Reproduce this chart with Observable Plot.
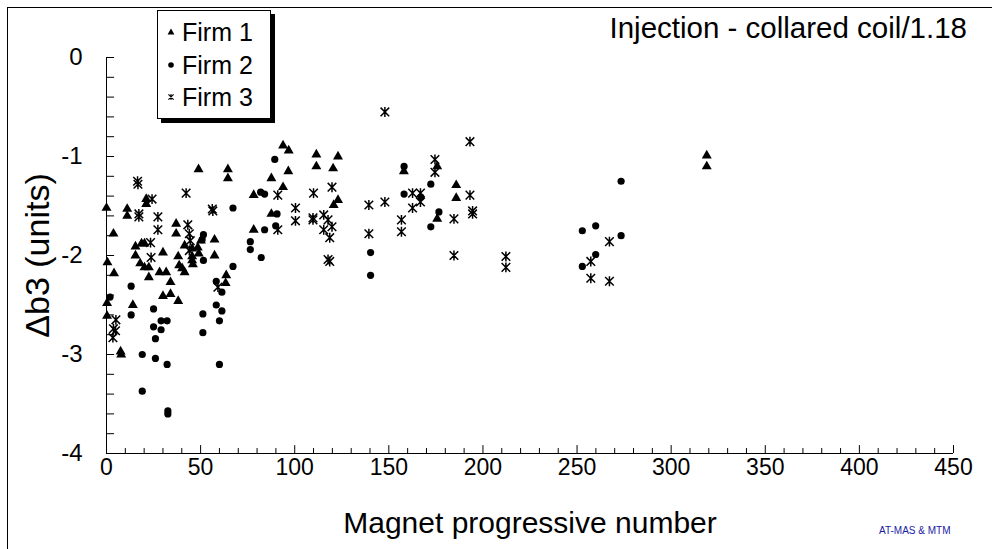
<!DOCTYPE html>
<html>
<head>
<meta charset="utf-8">
<script src="https://cdn.jsdelivr.net/npm/d3@7"></script>
<script src="https://cdn.jsdelivr.net/npm/@observablehq/plot@0.6"></script>
<style>
  html, body { margin: 0; padding: 0; background: #fff; }
  #wrap { position: relative; width: 992px; height: 549px; overflow: hidden; font-family: "Liberation Sans", Arial, sans-serif; }
  #chart { position: absolute; left: 0; top: 0; }
  #border { position: absolute; left: 7px; top: 7px; width: 990px; height: 560px; border-top: 1px solid #000; border-left: 1px solid #000; }
  #title { position: absolute; right: 25px; top: 13px; font-size: 29.5px; line-height: 30px; color: #000; white-space: nowrap; }
  #legend { position: absolute; left: 157px; top: 10px; width: 112px; height: 107px; border: 1px solid #000; background: #fff; box-shadow: 4px 4px 0 #000; font-size: 25px; }
  #legend .row { position: absolute; left: 8px; height: 28px; line-height: 28px; white-space: nowrap; }
  #legend svg { vertical-align: middle; margin-right: 6px; position: relative; top: -2px; }
  #caption { position: absolute; left: 879px; top: 525px; font-size: 10px; color: #1a1aa6; white-space: nowrap; }
</style>
</head>
<body>
<div id="wrap">
  <div id="chart"></div>
  <div id="border"></div>
  <div id="title"></div>
  <div id="legend"></div>
  <div id="caption"></div>
</div>
<script>
// ---- Data ----
const seriesNames = ["Firm 1", "Firm 2", "Firm 3"];

const firm1X = [0, 11, 11, 3.7, 0.5, 4, 0.3, 0.3, 7.5, 7.8,
  15.4, 15.4, 18.6, 20.2, 21.1, 21.1, 17.9, 20.2, 22.5, 22.5, 14, 30, 28.2, 31.7, 34, 30, 34, 38.1,
  37, 37, 38.1, 38.6, 40.2, 41.5, 41.5, 45.5, 48.5, 45.5, 45.5, 45.9, 49, 50.2, 57.4, 57.4, 48.9,
  63.6, 63.3, 64.5, 64.5,
  78.2, 87.6, 87.6, 78.2, 93.8, 96.8, 96.6, 93.8, 111.5, 111.5, 123, 120.4, 120.7, 123,
  158, 175.7, 175.7, 185.8, 185.8, 318.9, 318.9];
const firm1Y = [-1.52, -1.53, -1.60, -1.78, -2.07, -2.18, -2.48, -2.61, -2.97, -3.0,
  -1.91, -2.0, -1.88, -1.88, -1.43, -1.48, -2.08, -2.12, -2.12, -2.22, -2.5, -1.97, -2.17, -2.17, -2.27, -2.41, -2.39, -2.46,
  -1.68, -1.78, -2.01, -2.10, -2.13, -2.17, -1.90, -1.93, -1.92, -2.01, -2.05, -2.09, -1.98, -1.85, -1.84, -2.0, -1.13,
  -2.2, -2.28, -1.13, -1.22,
  -1.39, -1.22, -1.58, -1.74, -0.89, -0.94, -1.15, -1.31, -0.98, -1.10, -1.0, -1.12, -1.49, -1.44,
  -1.15, -1.10, -1.63, -1.29, -1.42, -0.99, -1.10];

const firm2X = [1.9, 13.1, 13.1, 25, 29, 32.2, 25, 29, 26, 19, 26, 32.2, 19, 32.6, 32.6,
  51.5, 50.8, 51.5, 51.2, 51.2, 58.3, 61.3, 58.3, 61.3, 60, 60, 67.2, 67.2,
  76.4, 76.4, 82.2, 81.9, 84, 84, 89.9, 90.6, 89.4,
  158.1, 158.1, 172.3, 167, 176.6, 172.3, 140.3, 140.3,
  252.8, 252.8, 259.9, 259.9, 273.4, 273.4];
const firm2Y = [-2.42, -2.31, -2.60, -2.54, -2.66, -2.66, -2.72, -2.75, -2.84, -3.0, -3.04, -3.10, -3.37, -3.57, -3.60,
  -1.79, -1.84, -2.05, -2.59, -2.78, -2.26, -2.37, -2.50, -2.56, -2.66, -3.10, -1.52, -2.11,
  -1.86, -1.94, -2.02, -1.36, -1.38, -1.74, -1.70, -1.58, -1.03,
  -1.10, -1.38, -1.28, -1.41, -1.56, -1.71, -1.97, -2.2,
  -1.75, -2.11, -1.70, -1.99, -1.25, -1.80];

const firm3X = [3.7, 5, 4.8, 3.4, 16.5, 16.7, 17.2, 17.2, 24.2, 27.3, 27.3, 23.4, 23.7,
  42.3, 43.2, 44, 44.5, 44, 56.2, 56.5, 59.2,
  91, 91, 100.4, 100.4, 110, 119.8, 109.7, 109.7, 115.4, 117.7, 119.8, 115.4, 118.6, 117.7, 118.6,
  139.4, 139.4, 147.9, 147.9, 156.7, 156.7, 162.6, 166.8, 166.8, 162.6, 174.5, 174.5,
  184.6, 184.6, 193.1, 193.1, 194.5, 194.5, 212.2, 212.2, 257.3, 257.3, 267.2, 267.2];
const firm3Y = [-2.74, -2.65, -2.76, -2.83, -1.25, -1.28, -1.58, -1.61, -1.43, -1.61, -1.74, -1.87, -2.02,
  -1.37, -1.69, -1.78, -1.85, -1.95, -1.53, -1.55, -2.32,
  -1.39, -1.74, -1.52, -1.65, -1.37, -1.31, -1.62, -1.64, -1.59, -1.64, -1.71, -1.74, -1.82, -2.04, -2.06,
  -1.49, -1.78, -0.55, -1.46, -1.64, -1.76, -1.37, -1.37, -1.46, -1.52, -1.03, -1.16,
  -1.63, -2.0, -0.85, -1.39, -1.55, -1.58, -2.01, -2.12, -2.06, -2.23, -1.86, -2.26];

const xTickLabels = [0, 50, 100, 150, 200, 250, 300, 350, 400, 450];
const yTickLabels = [-4, -3, -2, -1, 0];
const xMinorTicks = d3.range(0, 451, 10).filter(d => d % 50 !== 0);
const xMajorTicks = d3.range(0, 451, 50);
const yMinorTicks = d3.range(-40, 1, 2).map(d => d / 10);

const titleText = "Injection - collared coil/1.18";
const xLabel = "Magnet progressive number";
const yLabel = "Δb3 (units)";
const captionText = "AT-MAS & MTM";

// ---- Build tables ----
const firm1 = firm1X.map((x, i) => ({x, y: firm1Y[i]}));
const firm2 = firm2X.map((x, i) => ({x, y: firm2Y[i]}));
const firm3 = firm3X.map((x, i) => ({x, y: firm3Y[i]}));

// asterisk-like star marker (X with a vertical stroke)
const starSymbol = {
  draw(ctx, size) {
    const r = Math.sqrt(size / Math.PI);
    ctx.moveTo(-r, -r); ctx.lineTo(r, r);
    ctx.moveTo(-r, r); ctx.lineTo(r, -r);
    ctx.moveTo(0, -r * 1.15); ctx.lineTo(0, r * 1.15);
  }
};

const fmt = d => String(d);

const chart = Plot.plot({
  width: 992,
  height: 549,
  marginLeft: 106,
  marginRight: 39,
  marginTop: 57,
  marginBottom: 96,
  style: {fontFamily: "'Liberation Sans', Arial, sans-serif", background: "transparent", color: "#000"},
  x: {domain: [0, 450]},
  y: {domain: [-4, 0]},
  marks: [
    // axis lines
    Plot.ruleY([-4], {stroke: "#000", strokeWidth: 1}),
    Plot.ruleX([0], {stroke: "#000", strokeWidth: 1}),
    // inward ticks
    Plot.ruleY(yMinorTicks, {x1: 0, x2: 4.3, stroke: "#000", strokeWidth: 1}),
    Plot.ruleX(xMinorTicks, {y1: -4, y2: -3.95, stroke: "#000", strokeWidth: 1}),
    Plot.ruleX(xMajorTicks, {y1: -4, y2: -3.92, stroke: "#000", strokeWidth: 1}),
    // tick labels and titles
    Plot.axisY({ticks: yTickLabels, tickFormat: fmt, tickSize: 0, tickPadding: 24, fontSize: 24,
      label: null}),
    Plot.axisY({ticks: [], tickSize: 0, fontSize: 34,
      label: yLabel, labelAnchor: "center", labelOffset: 82, labelArrow: "none"}),
    Plot.axisX({ticks: xTickLabels, tickFormat: fmt, tickSize: 0, tickPadding: 5, fontSize: 23,
      label: null}),
    Plot.axisX({ticks: [], tickSize: 0, fontSize: 30,
      label: xLabel, labelAnchor: "center", labelOffset: 79, labelArrow: "none"}),
    // data
    Plot.dot(firm1, {x: "x", y: "y", symbol: "triangle", r: 3.7, fill: "#000", stroke: "none"}),
    Plot.dot(firm2, {x: "x", y: "y", symbol: "circle", r: 3.6, fill: "#000", stroke: "none"}),
    Plot.dot(firm3, {x: "x", y: "y", symbol: starSymbol, r: 4.3, fill: "none", stroke: "#000", strokeWidth: 1.5})
  ]
});
document.getElementById("chart").appendChild(chart);

document.getElementById("title").textContent = titleText;
document.getElementById("caption").textContent = captionText;

// legend
const legend = document.getElementById("legend");
const markerSvgs = [
  '<svg width="10" height="10" viewBox="-5 -5 10 10"><path d="M0,-3.6L3.4,2.4L-3.4,2.4Z" fill="#000"/></svg>',
  '<svg width="10" height="10" viewBox="-5 -5 10 10"><circle r="2.8" fill="#000"/></svg>',
  '<svg width="10" height="10" viewBox="-5 -5 10 10"><path d="M-2.6,-2.6L2.6,2.6M-2.6,2.6L2.6,-2.6M0,-3L0,3" stroke="#000" stroke-width="1.1" fill="none"/></svg>'
];
seriesNames.forEach((name, i) => {
  const row = document.createElement("div");
  row.className = "row";
  row.style.top = (7 + i * 32.5) + "px";
  row.innerHTML = markerSvgs[i] + "<span>" + name + "</span>";
  legend.appendChild(row);
});
</script>
</body>
</html>
